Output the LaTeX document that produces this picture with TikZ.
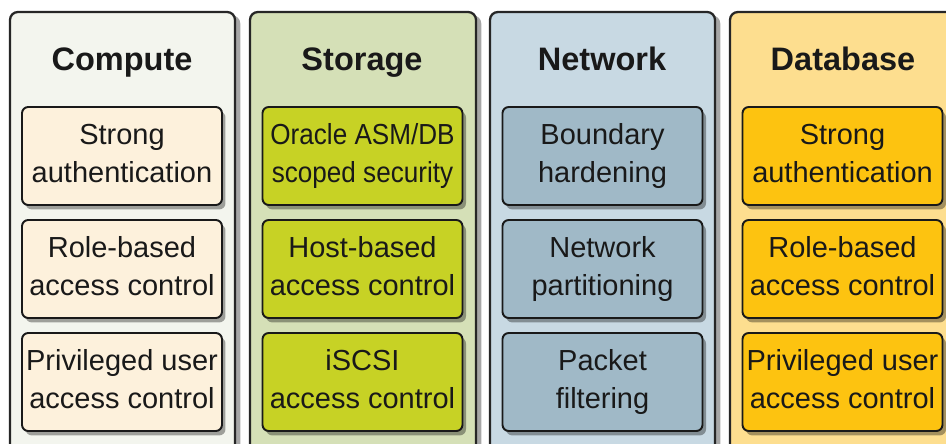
\documentclass[tikz,border=0pt]{standalone}
\usepackage{fontspec}
\setmainfont{Liberation Sans}
\newfontfamily\narrowfont[FakeStretch=0.9]{Liberation Sans}
\usetikzlibrary{shadows}

\definecolor{computebg}{HTML}{F3F5EE}
\definecolor{storagebg}{HTML}{D5E0B7}
\definecolor{networkbg}{HTML}{C8D9E3}
\definecolor{databasebg}{HTML}{FDDE8F}
\definecolor{computebox}{HTML}{FDF1DC}
\definecolor{storagebox}{HTML}{C7D225}
\definecolor{networkbox}{HTML}{A0B9C7}
\definecolor{databasebox}{HTML}{FDC310}

\tikzset{
  lane/.style={draw=black!85, line width=1.3pt, rounded corners=4.5pt,
    drop shadow={shadow xshift=3pt, shadow yshift=-2pt, fill=black, opacity=0.35}},
  lanetitle/.style={font=\fontsize{18.5}{22}\selectfont\bfseries, text=black!90, anchor=base},
  item/.style={draw=black!90, line width=1.1pt, rounded corners=3.5pt,
    minimum width=4cm, minimum height=1.96cm, inner sep=1pt, align=center,
    font=\fontsize{16.5}{21.5}\selectfont, text=black!90,
    execute at end node=\vphantom{g},
    drop shadow={shadow xshift=2pt, shadow yshift=-2.5pt, fill=black, opacity=0.35}}
}

\begin{document}
\begin{tikzpicture}[x=0.02cm, y=-0.02cm]
\useasboundingbox[fill=white] (0,0) rectangle (946,443);
\clip (0,0) rectangle (946,443);

% lanes
\path[lane, fill=computebg] (10,12) rectangle (235,470);
\path[lane, fill=storagebg] (250,12) rectangle (476,470);
\path[lane, fill=networkbg] (490,12) rectangle (715,470);
\path[lane, fill=databasebg] (730,12) rectangle (965,470);

\node[lanetitle] (compute) at (122,70) {Compute};
\node[lanetitle] (storage) at (362,70) {Storage};
\node[lanetitle] (network) at (602,70) {Network};
\node[lanetitle] (database) at (843,70) {Database};

% compute
\node[item, fill=computebox] (c1) at (122,156) {Strong\\authentication};
\node[item, fill=computebox] (c2) at (122,269) {Role-based\\access control};
\node[item, fill=computebox] (c3) at (122,382) {Privileged user\\access control};

% storage
\node[item, fill=storagebox] (s1) at (362.5,156) {\narrowfont Oracle ASM/DB\\\narrowfont scoped security};
\node[item, fill=storagebox] (s2) at (362.5,269) {Host-based\\access control};
\node[item, fill=storagebox] (s3) at (362.5,382) {iSCSI\\access control};

% network
\node[item, fill=networkbox] (n1) at (602.5,156) {Boundary\\hardening};
\node[item, fill=networkbox] (n2) at (602.5,269) {Network\\partitioning};
\node[item, fill=networkbox] (n3) at (602.5,382) {Packet\\filtering};

% database
\node[item, fill=databasebox] (d1) at (842.5,156) {Strong\\authentication};
\node[item, fill=databasebox] (d2) at (842.5,269) {Role-based\\access control};
\node[item, fill=databasebox] (d3) at (842.5,382) {Privileged user\\access control};
\end{tikzpicture}
\end{document}
